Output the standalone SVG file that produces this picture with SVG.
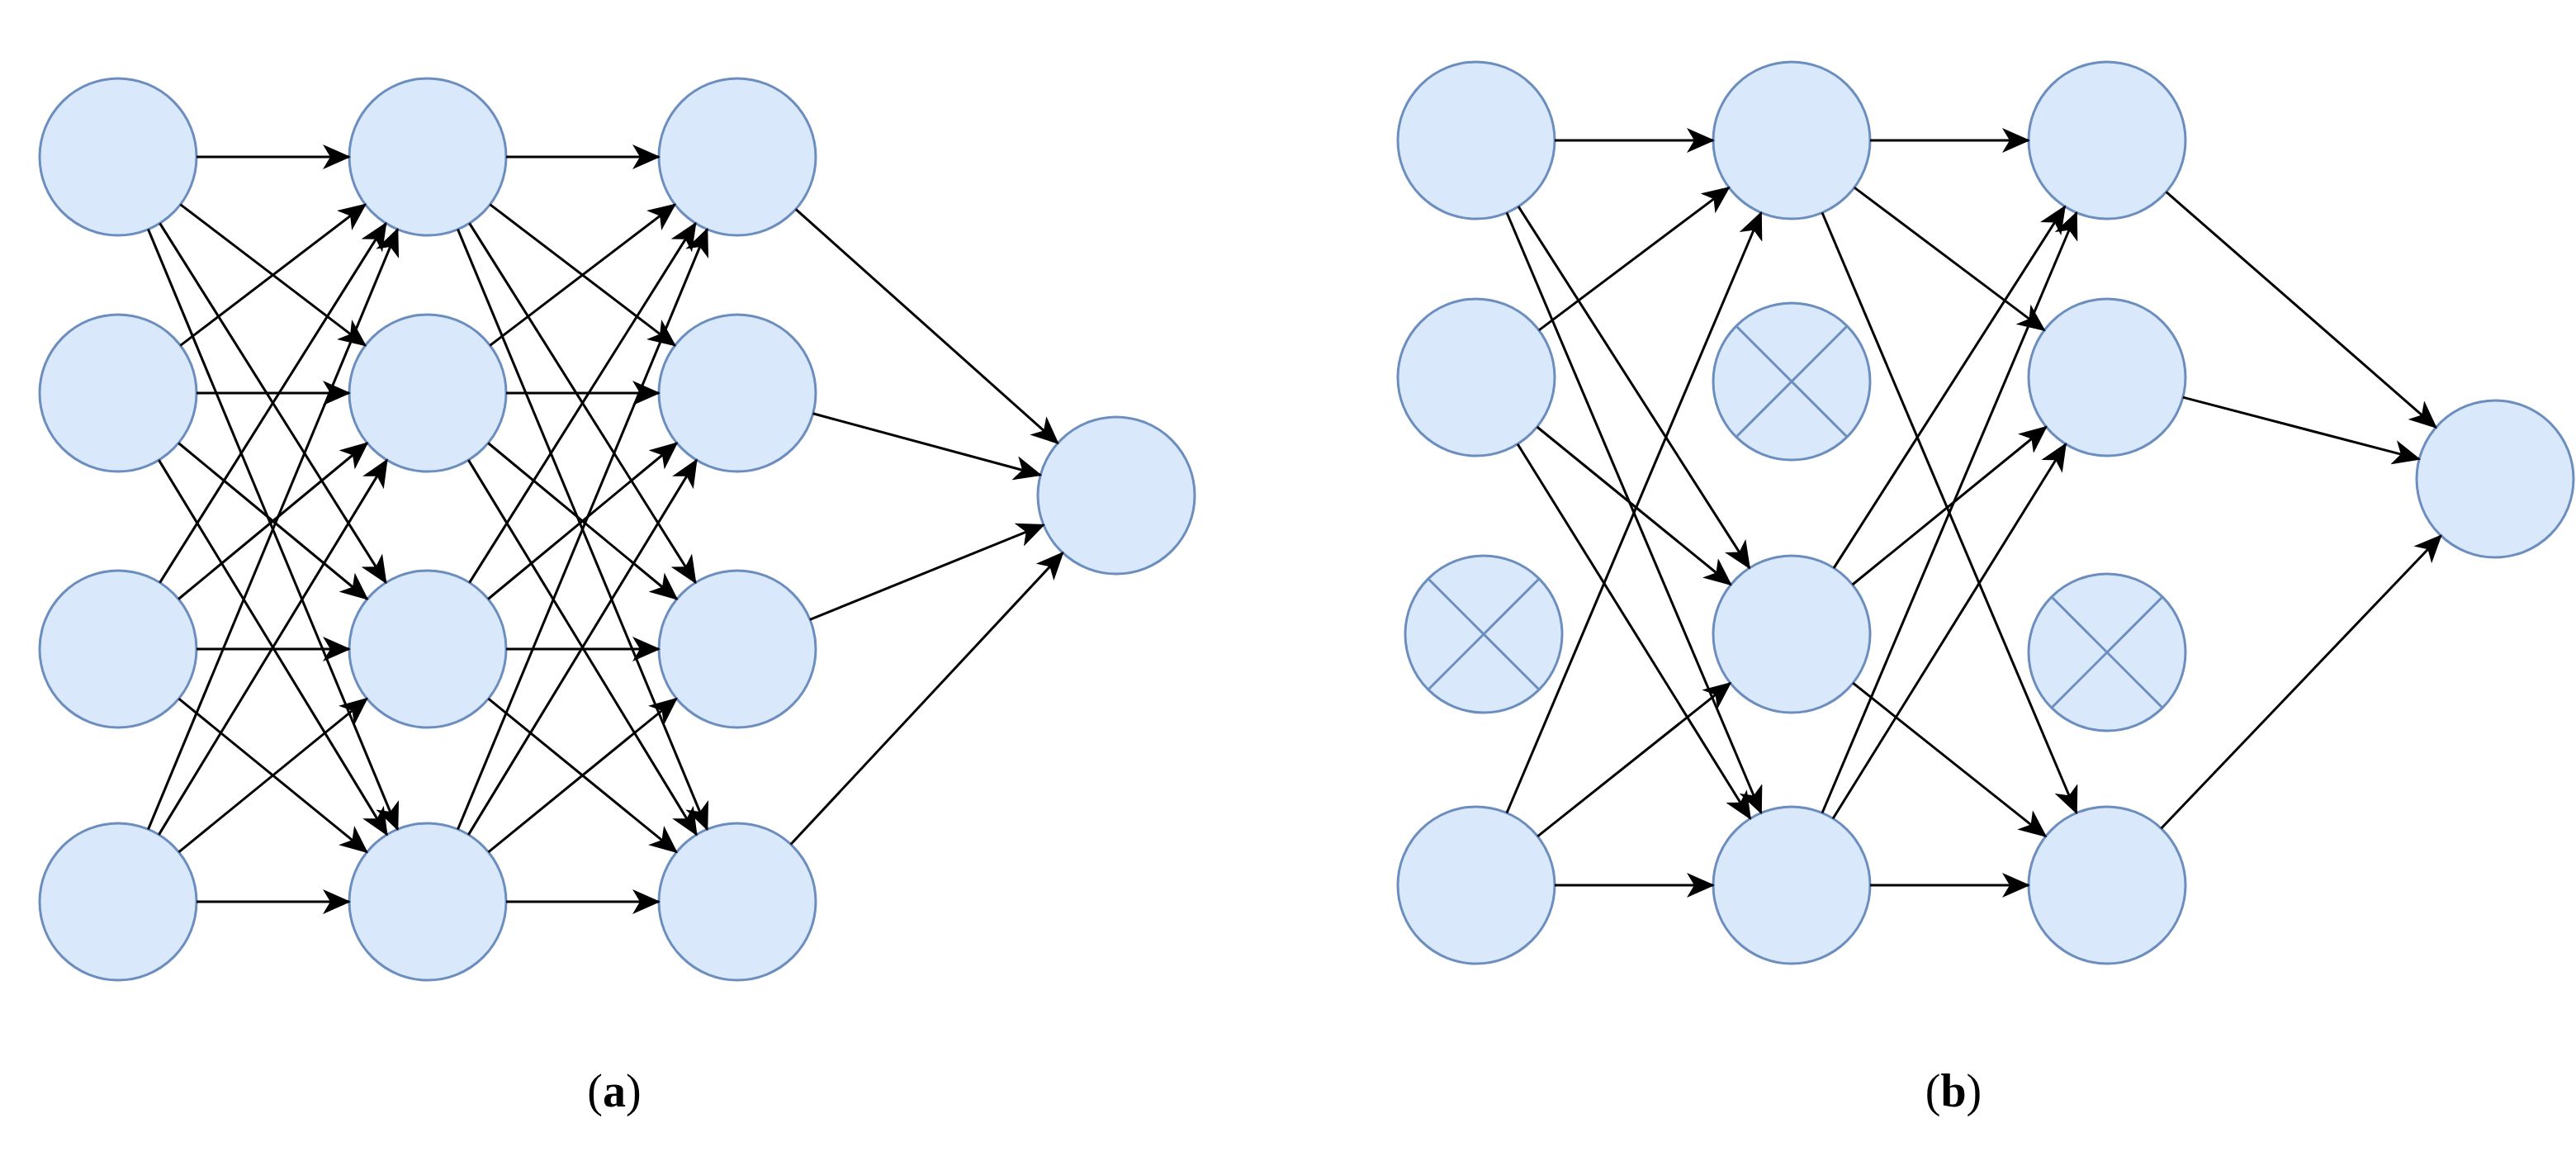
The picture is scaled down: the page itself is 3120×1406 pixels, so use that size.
<svg xmlns="http://www.w3.org/2000/svg" width="3120" height="1406" viewBox="0 0 3120 1406">
<style>
.n{fill:#dae8fc;stroke:#6c8ebf;stroke-width:3}
.x{stroke:#6c8ebf;stroke-width:3}
.e line{stroke:#000;stroke-width:3;marker-end:url(#ah)}
.lb{font-family:"Liberation Serif",serif;font-size:56px;fill:#000}
</style>
<defs>
<marker id="ah" markerUnits="userSpaceOnUse" markerWidth="36" markerHeight="30" refX="32" refY="15" orient="auto">
<path d="M0,0 L34,15 L0,30 L9,15 Z" fill="#000"/>
</marker>
</defs>
<rect width="3120" height="1406" fill="#fff"/>
<g id="a-nodes">
<g id="a11"><circle class="n" cx="143" cy="190" r="95"/></g>
<g id="a12"><circle class="n" cx="143" cy="476" r="95"/></g>
<g id="a13"><circle class="n" cx="143" cy="786" r="95"/></g>
<g id="a14"><circle class="n" cx="143" cy="1092" r="95"/></g>
<g id="a21"><circle class="n" cx="518" cy="190" r="95"/></g>
<g id="a22"><circle class="n" cx="518" cy="476" r="95"/></g>
<g id="a23"><circle class="n" cx="518" cy="786" r="95"/></g>
<g id="a24"><circle class="n" cx="518" cy="1092" r="95"/></g>
<g id="a31"><circle class="n" cx="893" cy="190" r="95"/></g>
<g id="a32"><circle class="n" cx="893" cy="476" r="95"/></g>
<g id="a33"><circle class="n" cx="893" cy="786" r="95"/></g>
<g id="a34"><circle class="n" cx="893" cy="1092" r="95"/></g>
<g id="aout"><circle class="n" cx="1352" cy="600" r="95"/></g>
</g>
<g id="b-nodes">
<g id="b11"><circle class="n" cx="1788" cy="170" r="95"/></g>
<g id="b12"><circle class="n" cx="1788" cy="457" r="95"/></g>
<g id="b13"><circle class="n" cx="1797" cy="768" r="95"/><line class="x" x1="1730" y1="701" x2="1864" y2="835"/><line class="x" x1="1864" y1="701" x2="1730" y2="835"/></g>
<g id="b14"><circle class="n" cx="1788" cy="1072" r="95"/></g>
<g id="b21"><circle class="n" cx="2170" cy="170" r="95"/></g>
<g id="b22"><circle class="n" cx="2170" cy="462" r="95"/><line class="x" x1="2103" y1="395" x2="2237" y2="529"/><line class="x" x1="2237" y1="395" x2="2103" y2="529"/></g>
<g id="b23"><circle class="n" cx="2170" cy="768" r="95"/></g>
<g id="b24"><circle class="n" cx="2170" cy="1072" r="95"/></g>
<g id="b31"><circle class="n" cx="2552" cy="170" r="95"/></g>
<g id="b32"><circle class="n" cx="2552" cy="457" r="95"/></g>
<g id="b33"><circle class="n" cx="2552" cy="790" r="95"/><line class="x" x1="2485" y1="723" x2="2619" y2="857"/><line class="x" x1="2619" y1="723" x2="2485" y2="857"/></g>
<g id="b34"><circle class="n" cx="2552" cy="1072" r="95"/></g>
<g id="bout"><circle class="n" cx="3022" cy="580" r="95"/></g>
</g>
<g id="connectors" class="e">
<line x1="238" y1="190" x2="423" y2="190"/>
<line x1="218.5" y1="247.6" x2="442.5" y2="418.4"/>
<line x1="193.6" y1="270.4" x2="467.4" y2="705.6"/>
<line x1="179.5" y1="277.7" x2="481.5" y2="1004.3"/>
<line x1="218.5" y1="418.4" x2="442.5" y2="247.6"/>
<line x1="238" y1="476" x2="423" y2="476"/>
<line x1="216.2" y1="536.5" x2="444.8" y2="725.5"/>
<line x1="192.4" y1="557.1" x2="468.6" y2="1010.9"/>
<line x1="193.6" y1="705.6" x2="467.4" y2="270.4"/>
<line x1="216.2" y1="725.5" x2="444.8" y2="536.5"/>
<line x1="238" y1="786" x2="423" y2="786"/>
<line x1="216.6" y1="846.1" x2="444.4" y2="1031.9"/>
<line x1="179.5" y1="1004.3" x2="481.5" y2="277.7"/>
<line x1="192.4" y1="1010.9" x2="468.6" y2="557.1"/>
<line x1="216.6" y1="1031.9" x2="444.4" y2="846.1"/>
<line x1="238" y1="1092" x2="423" y2="1092"/>
<line x1="613" y1="190" x2="798" y2="190"/>
<line x1="593.5" y1="247.6" x2="817.5" y2="418.4"/>
<line x1="568.6" y1="270.4" x2="842.4" y2="705.6"/>
<line x1="554.5" y1="277.7" x2="856.5" y2="1004.3"/>
<line x1="593.5" y1="418.4" x2="817.5" y2="247.6"/>
<line x1="613" y1="476" x2="798" y2="476"/>
<line x1="591.2" y1="536.5" x2="819.8" y2="725.5"/>
<line x1="567.4" y1="557.1" x2="843.6" y2="1010.9"/>
<line x1="568.6" y1="705.6" x2="842.4" y2="270.4"/>
<line x1="591.2" y1="725.5" x2="819.8" y2="536.5"/>
<line x1="613" y1="786" x2="798" y2="786"/>
<line x1="591.6" y1="846.1" x2="819.4" y2="1031.9"/>
<line x1="554.5" y1="1004.3" x2="856.5" y2="277.7"/>
<line x1="567.4" y1="1010.9" x2="843.6" y2="557.1"/>
<line x1="591.6" y1="1031.9" x2="819.4" y2="846.1"/>
<line x1="613" y1="1092" x2="798" y2="1092"/>
<line x1="963.8" y1="253.3" x2="1281.2" y2="536.7"/>
<line x1="984.7" y1="500.8" x2="1260.3" y2="575.2"/>
<line x1="981" y1="750.3" x2="1264" y2="635.7"/>
<line x1="957.8" y1="1022.5" x2="1287.2" y2="669.5"/>
<line x1="1883" y1="170" x2="2075" y2="170"/>
<line x1="1839.1" y1="250.1" x2="2118.9" y2="687.9"/>
<line x1="1825" y1="257.5" x2="2133" y2="984.5"/>
<line x1="1864" y1="399.9" x2="2094" y2="227.1"/>
<line x1="1861.7" y1="517" x2="2096.3" y2="708"/>
<line x1="1838.1" y1="537.7" x2="2119.9" y2="991.3"/>
<line x1="1825" y1="984.5" x2="2133" y2="257.5"/>
<line x1="1862.3" y1="1012.8" x2="2095.7" y2="827.2"/>
<line x1="1883" y1="1072" x2="2075" y2="1072"/>
<line x1="2265" y1="170" x2="2457" y2="170"/>
<line x1="2246" y1="227.1" x2="2476" y2="399.9"/>
<line x1="2207" y1="257.5" x2="2515" y2="984.5"/>
<line x1="2221.1" y1="687.9" x2="2500.9" y2="250.1"/>
<line x1="2243.7" y1="708" x2="2478.3" y2="517"/>
<line x1="2244.3" y1="827.2" x2="2477.7" y2="1012.8"/>
<line x1="2207" y1="984.5" x2="2515" y2="257.5"/>
<line x1="2220.1" y1="991.3" x2="2501.9" y2="537.7"/>
<line x1="2265" y1="1072" x2="2457" y2="1072"/>
<line x1="2623.6" y1="232.4" x2="2950.4" y2="517.6"/>
<line x1="2643.9" y1="481.1" x2="2930.1" y2="555.9"/>
<line x1="2617.6" y1="1003.3" x2="2956.4" y2="648.7"/>
</g>
<g id="labels">
<text class="lb" x="744" y="1340" text-anchor="middle">(<tspan font-weight="bold">a</tspan>)</text>
<text class="lb" x="2366" y="1340" text-anchor="middle">(<tspan font-weight="bold">b</tspan>)</text>
</g>
</svg>
